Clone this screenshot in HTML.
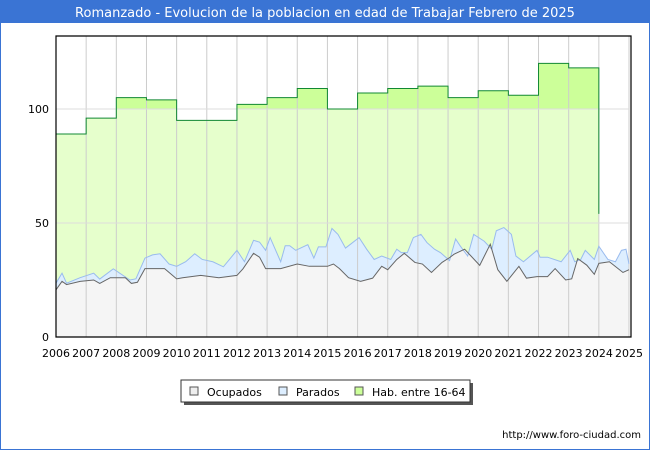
<!DOCTYPE html>
<html><head><meta charset="utf-8"><style>
body{margin:0;background:#fff;font-family:"DejaVu Sans","Liberation Sans",sans-serif}
#wrap{position:relative;width:648px;height:448px;border:1px solid #3a74d4;overflow:hidden}
</style></head><body>
<div id="wrap">
<svg id="chart" width="648" height="448" xmlns="http://www.w3.org/2000/svg">
<rect x="0" y="0" width="648" height="22" fill="#3a74d4"/>
<text x="324" y="16" text-anchor="middle" font-size="13" fill="#fff" font-family="DejaVu Sans, sans-serif">Romanzado - Evolucion de la poblacion en edad de Trabajar Febrero de 2025</text>
<g id="plot"></g>
<g>
<rect x="183" y="382" width="289" height="22" fill="#555"/>
<rect x="180" y="379" width="289" height="22" fill="#fff" stroke="#333"/>
<g><rect x="189" y="386" width="8" height="8" fill="#eee" stroke="#555"/><text x="206" y="395" font-size="11" fill="#000">Ocupados</text></g>
<g><rect x="278" y="386" width="8" height="8" fill="#ddeeff" stroke="#555"/><text x="295" y="395" font-size="11" fill="#000">Parados</text></g>
<g><rect x="354" y="386" width="8" height="8" fill="#ccff99" stroke="#555"/><text x="371" y="395" font-size="11" fill="#000">Hab. entre 16-64</text></g>
</g>
<text x="640" y="437" text-anchor="end" font-size="10" fill="#000">http://www.foro-ciudad.com</text>
</svg>
</div>
<script>
const years=[2006,2007,2008,2009,2010,2011,2012,2013,2014,2015,2016,2017,2018,2019,2020,2021,2022,2023,2024,2025];
const habValues=[89,96,105,104,95,95,102,105,109,100,107,109,110,105,108,106,120,118,54];
const ocupT=[2006,2006.2,2006.35,2006.8,2007.25,2007.45,2007.8,2008.3,2008.5,2008.7,2008.95,2009.6,2010,2010.2,2010.8,2011.4,2012,2012.2,2012.55,2012.75,2012.95,2013.45,2014,2014.4,2015,2015.2,2015.4,2015.7,2016.1,2016.5,2016.8,2017,2017.3,2017.55,2017.9,2018.15,2018.45,2018.8,2019.05,2019.2,2019.55,2020.05,2020.4,2020.65,2020.95,2021.35,2021.6,2021.95,2022.3,2022.55,2022.9,2023.1,2023.3,2023.6,2023.85,2024,2024.35,2024.8,2025];
const ocupV=[20.7,24.4,23,24.4,25,23.5,26,26,23.5,24,30,30,25.5,26,27,26,27,29.9,36.7,35,30,30,32,31,31,32,30,26,24.4,25.8,31,29.5,34,36.7,32.7,32,28.3,32.7,34.8,36.3,38.5,31.4,40.7,29.5,24.4,31,25.8,26.5,26.5,30,25,25.5,34.4,31.5,27.5,32.3,33,28.3,29.5];
const parT=[2006,2006.2,2006.35,2006.8,2007.25,2007.45,2007.9,2008.45,2008.65,2008.95,2009.2,2009.45,2009.75,2010,2010.3,2010.6,2010.85,2011.2,2011.55,2012,2012.25,2012.55,2012.75,2012.95,2013.1,2013.45,2013.6,2013.75,2013.95,2014.35,2014.55,2014.7,2014.95,2015.15,2015.35,2015.6,2016.05,2016.3,2016.55,2016.8,2017.1,2017.3,2017.45,2017.65,2017.85,2018.1,2018.3,2018.55,2018.75,2019.05,2019.25,2019.4,2019.65,2019.85,2020.2,2020.45,2020.6,2020.85,2021.1,2021.25,2021.5,2021.95,2022.05,2022.3,2022.75,2023.05,2023.2,2023.4,2023.55,2023.85,2024,2024.3,2024.55,2024.75,2024.9,2025];
const parV=[23.6,28,23.6,26,28,25.4,29.9,25,25.5,34.6,36,36.5,32,31,33,36.5,34,33,30.8,38,33,42.4,41.6,38,43.6,33,40,40,38,40.5,34.6,39.5,39.5,47.6,45,39,43.6,38.5,34,35.5,34,38.5,37,37,43.6,45,41.4,38.5,37,33.5,43,40,35.5,45,42,38.5,46.6,48,45,35.5,33,38,35,35,33,38,33,34,38,34,39.8,34,33,38,38.5,32,38];
const X0=55,X1=628,Y0=336,YMAX=132,YTOP=35;
const xs=t=>X0+(t-2006)*(X1-X0)/(2025-2006);
const ys=v=>Y0-v*(Y0-YTOP)/YMAX;
const NS='http://www.w3.org/2000/svg';
const plot=document.getElementById('plot');
function mk(tag,attrs,parent){const e=document.createElementNS(NS,tag);for(const k in attrs)e.setAttribute(k,attrs[k]);(parent||plot).appendChild(e);return e;}
// hab step path
let hp='M'+xs(2006)+','+ys(0);
for(let i=0;i<habValues.length;i++){
  const a=years[i],b=(i===habValues.length-1)?a:years[i+1];
  hp+=' L'+xs(a)+','+ys(habValues[i])+' L'+xs(b)+','+ys(habValues[i]);
}
const lastX=xs(years[habValues.length-1]);
let habLine='M'+xs(2006)+','+ys(habValues[0]);
for(let i=0;i<habValues.length-1;i++){
  const b=years[i+1];
  habLine+=' L'+xs(b)+','+ys(habValues[i])+' L'+xs(b)+','+ys(habValues[i+1]);
}
hp+=' L'+lastX+','+ys(0)+' Z';
const defs=mk('defs',{});
const cp=mk('clipPath',{id:'above'},defs);
mk('rect',{x:0,y:0,width:650,height:ys(100)},cp);
const habFill=mk('path',{d:hp,fill:'#e6ffcc'});


const habFill2=mk('path',{d:hp,fill:'#ccff99','clip-path':'url(#above)'});


// parados
let pp='M'+xs(parT[0])+','+ys(0);
parT.forEach((t,i)=>pp+=' L'+xs(t)+','+ys(parV[i]));
pp+=' L'+xs(parT[parT.length-1])+','+ys(0)+' Z';
const parFill=mk('path',{d:pp,fill:'#ddeeff'});


let op='M'+xs(ocupT[0])+','+ys(0);
ocupT.forEach((t,i)=>op+=' L'+xs(t)+','+ys(ocupV[i]));
op+=' L'+xs(ocupT[ocupT.length-1])+','+ys(0)+' Z';
const ocFill=mk('path',{d:op,fill:'#f5f5f5'});


// grid
years.forEach(y=>{const g=mk('line',{x1:xs(y),x2:xs(y),y1:YTOP,y2:Y0,stroke:'#ccc','stroke-width':1});


const t=mk('text',{x:xs(y),y:356,'text-anchor':'middle','font-size':11,fill:'#000'});t.textContent=y;

});
[0,50,100].forEach(v=>{const g=mk('line',{x1:X0,x2:X1,y1:ys(v),y2:ys(v),stroke:'#ddd','stroke-width':1});


const t=mk('text',{x:48,y:ys(v)+4,'text-anchor':'end','font-size':11,fill:'#000'});t.textContent=v;

});
// lines
let pl='';parT.forEach((t,i)=>pl+=(i?' L':'M')+xs(t)+','+ys(parV[i]));
const parLine=mk('path',{d:pl,fill:'none',stroke:'#99bbee','stroke-width':1});


let ol='';ocupT.forEach((t,i)=>ol+=(i?' L':'M')+xs(t)+','+ys(ocupV[i]));
const ocLine=mk('path',{d:ol,fill:'none',stroke:'#666','stroke-width':1});


const hl=mk('path',{d:habLine,fill:'none',stroke:'#118833','stroke-width':1});


const ax=mk('path',{d:'M'+X0+','+YTOP+' V'+Y0+' H'+(X1+2)+' V'+YTOP+' Z',fill:'none',stroke:'#000','stroke-width':1.2});


</script>
</body></html>
